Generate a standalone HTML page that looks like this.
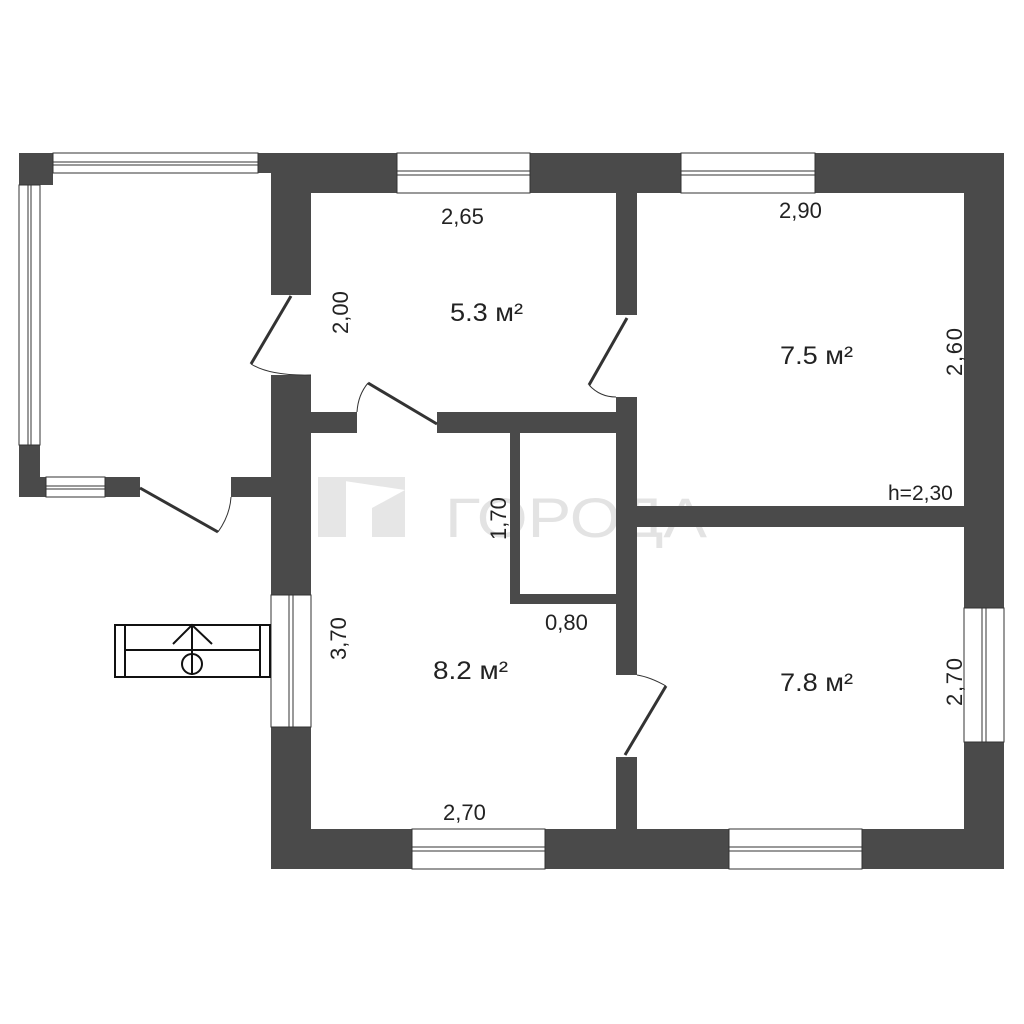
<!DOCTYPE html>
<html><head><style>
html,body{margin:0;padding:0;background:#fff;}
svg{display:block;}
text{font-family:"Liberation Sans",sans-serif;fill:#222;}
</style></head><body>
<svg width="1024" height="1024" viewBox="0 0 1024 1024" xmlns="http://www.w3.org/2000/svg">
<rect width="1024" height="1024" fill="#fff"/>
<g fill="#e6e6e6">
<rect x="318" y="477" width="28" height="60"/>
<path d="M318 477 H405 V537 H372 V508 L405 490 Z" />
</g>
<text x="445" y="537" font-size="56" style="fill:#e3e3e3" textLength="262" lengthAdjust="spacingAndGlyphs">ГОРОДА</text>
<g fill="#4a4a4a">
<rect x="19" y="153" width="34" height="32"/>
<rect x="19" y="153" width="21" height="32"/>
<rect x="19" y="445" width="21" height="52"/>
<rect x="19" y="477" width="27" height="20"/>
<rect x="105" y="477" width="35" height="20"/>
<rect x="231" y="477" width="42" height="20"/>
<rect x="258" y="153" width="53" height="20"/>
<rect x="271" y="153" width="40" height="142"/>
<rect x="271" y="375" width="40" height="220"/>
<rect x="271" y="727" width="40" height="142"/>
<rect x="271" y="153" width="126" height="40"/>
<rect x="530" y="153" width="151" height="40"/>
<rect x="815" y="153" width="189" height="40"/>
<rect x="964" y="153" width="40" height="455"/>
<rect x="964" y="742" width="40" height="127"/>
<rect x="271" y="829" width="141" height="40"/>
<rect x="545" y="829" width="184" height="40"/>
<rect x="862" y="829" width="142" height="40"/>
<rect x="616" y="193" width="21" height="122"/>
<rect x="616" y="397" width="21" height="278"/>
<rect x="616" y="757" width="21" height="72"/>
<rect x="311" y="412" width="46" height="21"/>
<rect x="437" y="412" width="179" height="21"/>
<rect x="510" y="433" width="10" height="171"/>
<rect x="510" y="594" width="106" height="10"/>
<rect x="637" y="506" width="327" height="21"/>
</g>
<g fill="#fff" stroke="#333" stroke-width="1">
<rect x="53" y="153" width="205" height="20"/><line x1="53" y1="162" x2="258" y2="162"/><line x1="53" y1="165" x2="258" y2="165"/>
<rect x="19" y="185" width="21" height="260"/><line x1="28" y1="185" x2="28" y2="445"/><line x1="31" y1="185" x2="31" y2="445"/>
<rect x="46" y="477" width="59" height="20"/><line x1="46" y1="486" x2="105" y2="486"/><line x1="46" y1="489" x2="105" y2="489"/>
<rect x="397" y="153" width="133" height="40"/><line x1="397" y1="171" x2="530" y2="171"/><line x1="397" y1="175" x2="530" y2="175"/>
<rect x="681" y="153" width="134" height="40"/><line x1="681" y1="171" x2="815" y2="171"/><line x1="681" y1="175" x2="815" y2="175"/>
<rect x="271" y="595" width="40" height="132"/><line x1="289" y1="595" x2="289" y2="727"/><line x1="293" y1="595" x2="293" y2="727"/>
<rect x="964" y="608" width="40" height="134"/><line x1="982" y1="608" x2="982" y2="742"/><line x1="986" y1="608" x2="986" y2="742"/>
<rect x="412" y="829" width="133" height="40"/><line x1="412" y1="847" x2="545" y2="847"/><line x1="412" y1="851" x2="545" y2="851"/>
<rect x="729" y="829" width="133" height="40"/><line x1="729" y1="847" x2="862" y2="847"/><line x1="729" y1="851" x2="862" y2="851"/>
</g>
<g fill="none" stroke="#333">
<line x1="291" y1="296" x2="251" y2="364" stroke-width="3"/>
<path d="M251 364 Q270 376 311 375" stroke-width="1"/>
<line x1="140" y1="488" x2="218" y2="532" stroke-width="3"/>
<path d="M218 532 Q230 515 231 497" stroke-width="1"/>
<line x1="437" y1="424" x2="368" y2="383" stroke-width="3"/>
<path d="M368 383 Q358 395 357 412" stroke-width="1"/>
<line x1="627" y1="318" x2="589" y2="385" stroke-width="3"/>
<path d="M589 385 Q600 397 616 397" stroke-width="1"/>
<line x1="666" y1="686" x2="625" y2="755" stroke-width="3"/>
<path d="M666 686 Q650 677 637 675" stroke-width="1"/>
</g>
<g fill="none" stroke="#111" stroke-width="2">
<rect x="115" y="625" width="155" height="52"/>
<line x1="125" y1="625" x2="125" y2="677"/>
<line x1="260" y1="625" x2="260" y2="677"/>
<line x1="125" y1="650" x2="260" y2="650"/>
<line x1="192" y1="625" x2="192" y2="675"/>
<polyline points="173,644 192,625 212,644"/>
<circle cx="192" cy="664" r="10"/>
</g>
<g font-size="22">
<text x="441" y="224">2,65</text>
<text x="779" y="218">2,90</text>
<text x="450" y="321" font-size="25" textLength="73" lengthAdjust="spacingAndGlyphs">5.3 м²</text>
<text x="780" y="364" font-size="25" textLength="73" lengthAdjust="spacingAndGlyphs">7.5 м²</text>
<text x="433" y="679" font-size="25" textLength="75" lengthAdjust="spacingAndGlyphs">8.2 м²</text>
<text x="780" y="691" font-size="25" textLength="73" lengthAdjust="spacingAndGlyphs">7.8 м²</text>
<text x="545" y="630">0,80</text>
<text x="443" y="820">2,70</text>
<text x="888" y="500" font-size="21">h=2,30</text>
<text transform="translate(348,334) rotate(-90)">2,00</text>
<text transform="translate(346,660) rotate(-90)">3,70</text>
<text transform="translate(506,540) rotate(-90)">1,70</text>
<text transform="translate(962,376) rotate(-90)" textLength="48">2,60</text>
<text transform="translate(962,706) rotate(-90)" textLength="48">2,70</text>
</g>
</svg>
</body></html>
